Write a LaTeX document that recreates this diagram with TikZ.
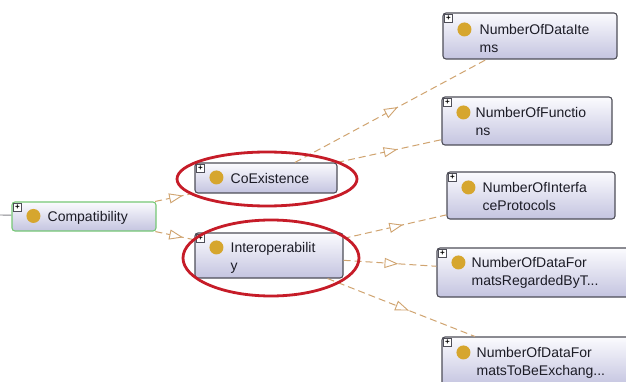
\documentclass[tikz,border=0pt]{standalone}
\usepackage{fontspec}
\setmainfont{Liberation Sans}
\usetikzlibrary{decorations.markings}

\definecolor{edgetan}{RGB}{208,164,112}
\definecolor{ringred}{RGB}{198,28,40}
\definecolor{boxedge}{RGB}{78,78,88}
\definecolor{boxtop}{RGB}{251,251,254}
\definecolor{boxbottom}{RGB}{196,196,224}
\definecolor{greenedge}{RGB}{118,200,118}
\definecolor{dotgold}{RGB}{214,166,46}
\definecolor{labelink}{RGB}{28,28,38}

\tikzset{
  classbox/.style={rectangle, rounded corners=3pt, draw=boxedge, line width=1.1pt,
    top color=boxtop, bottom color=boxbottom, inner sep=0pt},
  rootbox/.style={classbox, draw=greenedge},
  classtext/.style={inner sep=0pt, anchor=base west, align=left,
    font=\fontsize{14}{18}\selectfont, text=labelink},
  plusbox/.style={rectangle, draw=boxedge, fill=white, line width=0.5pt,
    minimum size=8pt, inner sep=0pt, font=\fontsize{8}{8}\selectfont\bfseries},
  subclass/.style={draw=edgetan, line width=1pt, dash pattern=on 7pt off 4pt,
    postaction={decorate},
    decoration={markings, mark=at position 0.5 with {
      \draw[solid, draw=edgetan, fill=white, line width=0.9pt, line join=miter]
        (-5pt,4.5pt) -- (7pt,0pt) -- (-5pt,-4.5pt) -- cycle;}}},
  ring/.style={draw=ringred, line width=2.8pt},
  stubline/.style={draw=boxedge!70, line width=0.9pt},
}

% expand icon and class dot in the top left corner of a class box
\newcommand\classicons[2]{%
  \fill[dotgold] ([xshift=22pt,yshift=-#2pt]#1.north west) circle (7pt);
  \node[plusbox] (#1-plus) at ([xshift=6pt,yshift=-6pt]#1.north west) {+};
}

\begin{document}
\begin{tikzpicture}[x=1pt, y=-1pt]
  \useasboundingbox (0,0) rectangle (626,382);
  \clip (0,0) rectangle (626,382);
  \fill[white] (0,0) rectangle (626,382);

  % class boxes
  \node[rootbox,  minimum width=144pt, minimum height=29pt] (compat)  at (84,216.5)  {};
  \node[classbox, minimum width=142pt, minimum height=30pt] (coex)    at (266,178)   {};
  \node[classbox, minimum width=148pt, minimum height=45pt] (interop) at (269,255.5) {};
  \node[classbox, minimum width=174pt, minimum height=46pt] (items)   at (530,36)    {};
  \node[classbox, minimum width=170pt, minimum height=48pt] (funcs)   at (527,121)   {};
  \node[classbox, minimum width=168pt, minimum height=47pt] (iface)   at (531,195.5) {};
  \node[classbox, minimum width=193pt, minimum height=49pt] (regard)  at (533.5,272.5) {};
  \node[classbox, minimum width=193pt, minimum height=49pt] (exch)    at (538.5,361.5) {};

  % subclass connectors
  \coordinate (stub) at (0,215);
  \draw[stubline] (stub) -- (compat);
  \draw[subclass] (compat) -- (coex);
  \draw[subclass] (compat) -- (interop);
  \draw[subclass] (coex) -- (items);
  \draw[subclass] (coex) -- (funcs);
  \draw[subclass] (interop) -- (iface);
  \draw[subclass] (interop) -- (regard);
  \draw[subclass] (interop) -- (exch);

  % icons
  \classicons{compat}{14.5}
  \classicons{coex}{15}
  \classicons{interop}{15}
  \classicons{items}{17}
  \classicons{funcs}{16}
  \classicons{iface}{16}
  \classicons{regard}{15}
  \classicons{exch}{16}

  % labels (two-line labels are placed by the baseline of their last line)
  \node[classtext] (compat-t)  at ([xshift=36pt,yshift=-5pt]compat.west) {Compatibility};
  \node[classtext] (coex-t)    at ([xshift=36pt,yshift=-5pt]coex.west) {CoExistence};
  \node[classtext] (interop-t) at ([xshift=36pt,yshift=-38pt]interop.north west) {Interoperabilit\\y};
  \node[classtext] (items-t)   at ([xshift=37pt,yshift=-40pt]items.north west) {NumberOfDataIte\\ms};
  \node[classtext] (funcs-t)   at ([xshift=34pt,yshift=-39pt]funcs.north west) {NumberOfFunctio\\ns};
  \node[classtext] (iface-t)   at ([xshift=36pt,yshift=-39pt]iface.north west) {NumberOfInterfa\\ceProtocols};
  \node[classtext] (regard-t)  at ([xshift=35pt,yshift=-38pt]regard.north west) {NumberOfDataFor\\matsRegardedByT...};
  \node[classtext] (exch-t)    at ([xshift=35pt,yshift=-39pt]exch.north west) {NumberOfDataFor\\matsToBeExchang...};

  % highlight rings
  \draw[ring] (267,179) ellipse [x radius=90pt, y radius=27pt];
  \draw[ring] (271,258) ellipse [x radius=88pt, y radius=38pt];
\end{tikzpicture}
\end{document}
